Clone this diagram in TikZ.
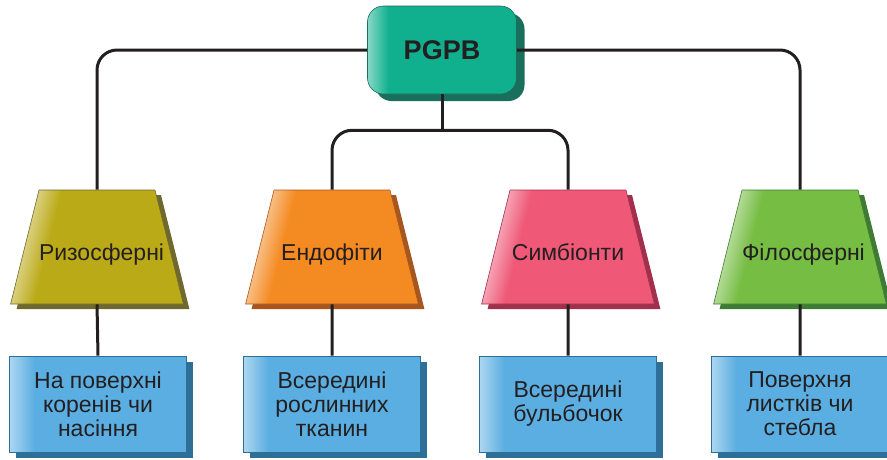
\documentclass[tikz,border=0pt]{standalone}
\usepackage{fontspec}
\setmainfont{Liberation Sans}
\usetikzlibrary{shapes.geometric,shadows}

\definecolor{ink}{HTML}{231F20}
\definecolor{rootc}{HTML}{10B08E}
\definecolor{rootdark}{HTML}{1A6E5C}
\definecolor{rizc}{HTML}{BBAA18}
\definecolor{rizdark}{HTML}{6F6930}
\definecolor{endoc}{HTML}{F48A22}
\definecolor{endodark}{HTML}{A8561F}
\definecolor{symbc}{HTML}{EF5877}
\definecolor{symbdark}{HTML}{A0304B}
\definecolor{filoc}{HTML}{76BD43}
\definecolor{filodark}{HTML}{3E7B35}
\definecolor{placec}{HTML}{5AAEE1}
\definecolor{placedark}{HTML}{2D6F96}

\colorlet{boxc}{white}
\pgfdeclarehorizontalshading[boxc]{leftglow}{100bp}{color(0bp)=(white); color(25bp)=(white!50!boxc); color(32bp)=(boxc); color(100bp)=(boxc)}
\pgfdeclarehorizontalshading[boxc]{slantglow}{100bp}{color(0bp)=(white); color(28bp)=(white!45!boxc); color(35bp)=(boxc); color(100bp)=(boxc)}

\tikzset{
  boxcolor/.code={\colorlet{boxc}{#1}},
  link/.style={ink, line width=3pt, rounded corners=20pt},
  rootbox/.style={rectangle, rounded corners=16pt, minimum width=149pt, minimum height=88pt,
    boxcolor=rootc, shading=leftglow, draw=rootdark, line width=0.6pt,
    drop shadow={shadow xshift=8pt, shadow yshift=-7pt, fill=rootdark, opacity=1},
    font=\fontsize{27}{30}\selectfont\bfseries, text=ink},
  groupbox/.style 2 args={trapezium, trapezium angle=76, inner sep=0pt,
    text width=116pt, align=center, text height=70pt, text depth=44pt,
    boxcolor=#1, shading=slantglow, shading angle=-14, draw=#2, line width=0.6pt,
    drop shadow={shadow xshift=6pt, shadow yshift=-5pt, fill=#2, opacity=1},
    font=\fontsize{23}{24}\selectfont, text=ink},
  placebox/.style={rectangle, minimum width=177pt, minimum height=96pt, inner sep=0pt,
    boxcolor=placec, shading=leftglow, draw=placedark, line width=0.6pt,
    drop shadow={shadow xshift=6pt, shadow yshift=-6pt, fill=placedark, opacity=1},
    align=center, font=\fontsize{23}{24}\selectfont, text=ink}
}

\begin{document}
\begin{tikzpicture}[x=1pt, y=-1pt]
  \useasboundingbox (0,0) rectangle (887,459);

  % Корінь
  \node[rootbox] (root) at (442,50) {PGPB};

  % Групи бактерій
  \node[groupbox={rizc}{rizdark}]   (riz)  at (97,247)  {Ризосферні};
  \node[groupbox={endoc}{endodark}] (endo) at (332,247) {Ендофіти};
  \node[groupbox={symbc}{symbdark}] (symb) at (568,247) {Симбіонти};
  \node[groupbox={filoc}{filodark}] (filo) at (800,247) {Філосферні};

  % Місця
  \node[placebox] (rizp)  at (98,404)  {На поверхні\\коренів чи\\насіння};
  \node[placebox] (endop) at (332,404) {Всередині\\рослинних\\тканин};
  \node[placebox] (symbp) at (568,404) {Всередині\\бульбочок};
  \node[placebox] (filop) at (800,404) {Поверхня\\листків чи\\стебла};

  % Лінії
  \draw[link] (root.west) -| (riz.north);
  \draw[link] (root.east) -| (filo.north);
  \draw[link] (root.south) -- ++(0,36) coordinate (split);
  \draw[link] (split) -| (endo.north);
  \draw[link] (split) -| (symb.north);
  \foreach \g in {riz,endo,symb,filo}
    \draw[link] (\g.south) -- (\g p.north);

\end{tikzpicture}
\end{document}
